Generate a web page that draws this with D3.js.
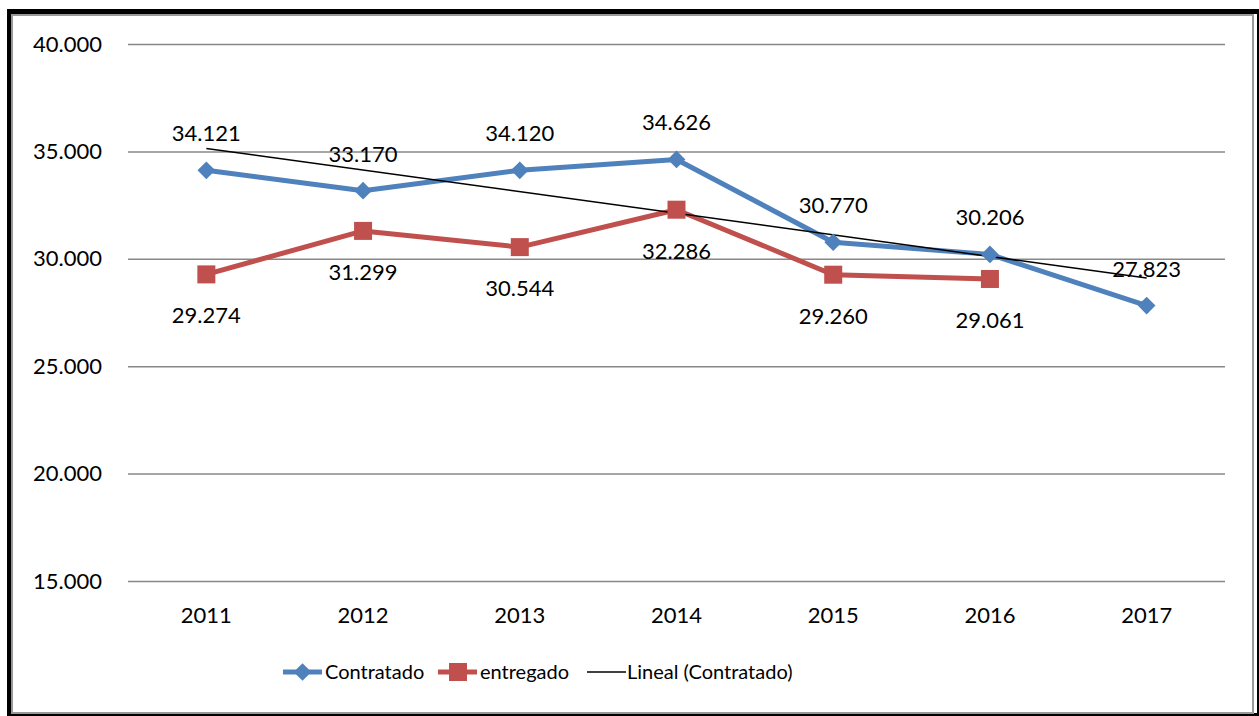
<!DOCTYPE html>
<html>
<head>
<meta charset="utf-8">
<script src="https://cdn.jsdelivr.net/npm/d3@7"></script>
<style>
  body { margin: 0; background: #fff; }
  svg { display: block; font-family: Lato, "Open Sans", sans-serif; }
</style>
</head>
<body>
<svg width="1259" height="716"></svg>
<script>
var years = ['2011', '2012', '2013', '2014', '2015', '2016', '2017'];
var contratado = [34121, 33170, 34120, 34626, 30770, 30206, 27823];
var entregado = [29274, 31299, 30544, 32286, 29260, 29061, null];
var yTicks = [15000, 20000, 25000, 30000, 35000, 40000];
var legendNames = ['Contratado', 'entregado', 'Lineal (Contratado)'];

var blue = '#4f81bd', red = '#c0504d';
var svg = d3.select('svg');

// frame: black outer, gray inner
svg.append('rect').attr('x', 9.5).attr('y', 11.5).attr('width', 1250).attr('height', 704)
    .attr('fill', 'none').attr('stroke', '#000').attr('stroke-width', 5);
svg.append('rect').attr('x', 12).attr('y', 15).attr('width', 1241).attr('height', 698)
    .attr('fill', 'none').attr('stroke', '#999').attr('stroke-width', 2);

var x = d3.scaleBand().domain(years).range([128, 1225]);
var y = d3.scaleLinear().domain([15000, 40000]).range([581, 44]);
var fmt = function(v){ return d3.format(',')(v).replace(/,/g, '.'); };
var cx = function(i){ return x(years[i]) + x.bandwidth() / 2; };

// gridlines + y labels
var yAxis = svg.append('g').attr('transform', 'translate(128,0)')
    .call(d3.axisLeft(y).tickValues(yTicks).tickSize(-1097).tickPadding(26).tickFormat(fmt));
yAxis.select('.domain').remove();
yAxis.selectAll('line').attr('stroke', '#888').attr('stroke-width', 1.5);
yAxis.selectAll('text').attr('font-size', 22).attr('fill', '#000').attr('font-family', 'Lato');

// x labels
var xAxis = svg.append('g').attr('transform', 'translate(0,581)')
    .call(d3.axisBottom(x).tickSize(0).tickPadding(26));
xAxis.select('.domain').remove();
xAxis.selectAll('text').attr('font-size', 22).attr('fill', '#000').attr('font-family', 'Lato');

// linear trend of Contratado
var n = contratado.length;
var mx = d3.mean(d3.range(n)), my = d3.mean(contratado);
var slope = d3.sum(d3.range(n), function(i){ return (i - mx) * (contratado[i] - my); }) /
            d3.sum(d3.range(n), function(i){ return (i - mx) * (i - mx); });
var icpt = my - slope * mx;

var line = d3.line().defined(function(d){ return d != null; })
    .x(function(d, i){ return cx(i); }).y(function(d){ return y(d); });

svg.append('path').datum(contratado).attr('d', line)
    .attr('fill', 'none').attr('stroke', blue).attr('stroke-width', 5).attr('stroke-linejoin', 'round');
svg.append('path').datum(entregado).attr('d', line)
    .attr('fill', 'none').attr('stroke', red).attr('stroke-width', 5).attr('stroke-linejoin', 'round');

svg.append('line')
    .attr('x1', cx(0)).attr('y1', y(icpt))
    .attr('x2', cx(n - 1)).attr('y2', y(icpt + slope * (n - 1)))
    .attr('stroke', '#000').attr('stroke-width', 1.5);

var diamond = d3.symbol().type(d3.symbolDiamond2).size(200);
svg.selectAll('.mc').data(contratado).enter().append('path')
    .attr('transform', function(d, i){ return 'translate(' + cx(i) + ',' + y(d) + ')'; })
    .attr('d', diamond).attr('fill', blue);

svg.selectAll('.me').data(entregado.filter(function(d){ return d != null; })).enter().append('rect')
    .attr('x', function(d, i){ return cx(i) - 9; }).attr('y', function(d){ return y(d) - 9; })
    .attr('width', 18).attr('height', 18).attr('fill', red);

// data labels
svg.selectAll('.lc').data(contratado).enter().append('text')
    .attr('x', function(d, i){ return cx(i); }).attr('y', function(d){ return y(d) - 29; })
    .attr('text-anchor', 'middle').attr('font-size', 22).text(fmt);
svg.selectAll('.le').data(entregado.filter(function(d){ return d != null; })).enter().append('text')
    .attr('x', function(d, i){ return cx(i); }).attr('y', function(d){ return y(d) + 49; })
    .attr('text-anchor', 'middle').attr('font-size', 22).text(fmt);

// legend
var legX = [283, 438, 587];
var lg = svg.selectAll('.lg').data(legendNames).enter().append('g')
    .attr('transform', function(d, i){ return 'translate(' + legX[i] + ',672)'; });
lg.append('line').attr('x1', 0).attr('x2', 39).attr('y1', 0).attr('y2', 0)
    .attr('stroke', function(d, i){ return [blue, red, '#000'][i]; })
    .attr('stroke-width', function(d, i){ return i < 2 ? 5 : 1.5; });
lg.filter(function(d, i){ return i == 0; }).append('path')
    .attr('transform', 'translate(19.5,0)').attr('d', diamond).attr('fill', blue);
lg.filter(function(d, i){ return i == 1; }).append('rect')
    .attr('x', 11).attr('y', -9).attr('width', 18).attr('height', 18).attr('fill', red);
lg.append('text').attr('x', function(d, i){ return i == 2 ? 40 : 42; }).attr('y', 7)
    .attr('font-size', 20).text(function(d){ return d; });
</script>
</body>
</html>
